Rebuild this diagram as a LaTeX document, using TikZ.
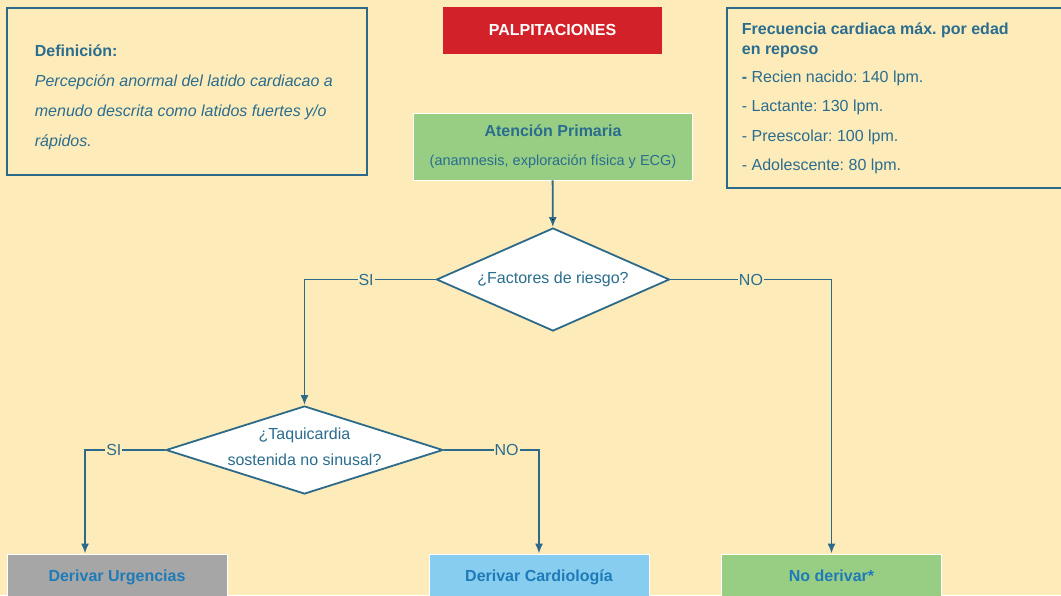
\documentclass[tikz,border=0pt]{standalone}
\usepackage{fontspec}
\setmainfont{Liberation Sans}
\frenchspacing
\usetikzlibrary{shapes.geometric,positioning,arrows.meta}
\definecolor{bgyellow}{HTML}{FEEBBA}
\definecolor{txtblue}{HTML}{2A6D8E}
\definecolor{linblue}{HTML}{2D6A89}
\definecolor{boldblue}{HTML}{1F7BB8}
\definecolor{boxred}{HTML}{D3212A}
\definecolor{boxgreen}{HTML}{98CE84}
\definecolor{boxgray}{HTML}{A6A6A6}
\definecolor{boxcyan}{HTML}{87CDEF}
\tikzset{infobox/.style = {draw=linblue, line width=1.8pt}}
\tikzset{infoline/.style = {anchor=west, inner sep=0pt, text=txtblue, text height=14pt, text depth=1pt, font=\fontsize{16}{19}\selectfont}}
\tikzset{decision/.style = {diamond, draw=linblue, fill=white, line width=1.8pt, inner sep=0pt, text=txtblue, align=center, font=\fontsize{16}{24}\selectfont}}
\tikzset{outcome/.style = {draw=white, line width=0.8pt, minimum width=220pt, minimum height=42pt, text height=14pt, text depth=1pt, text=boldblue, font=\fontsize{16}{19}\selectfont\bfseries}}
\tikzset{answer/.style = {fill=bgyellow, inner sep=1pt, text=txtblue, font=\fontsize{16}{19}\selectfont}}

\begin{document}
\begin{tikzpicture}[x=1pt, y=-1pt, >={Latex[length=10pt, width=8pt]}, line width=1.8pt]
  \useasboundingbox (0,0) rectangle (1061,595);
  \fill[bgyellow] (0,0) rectangle (1061,595);
  \clip (0,0) rectangle (1061,595);

  % definition box
  \draw[infobox] (7,8) rectangle (367,175);
  \node [infoline, font=\fontsize{16}{19}\selectfont\bfseries] (defhead) at (34,50) {Definición:};
  \node [infoline, font=\fontsize{16}{19}\selectfont\itshape] (def1) at (34,80) {Percepción anormal del latido cardiacao a};
  \node [infoline, font=\fontsize{16}{19}\selectfont\itshape] (def2) at (34,110) {menudo descrita como latidos fuertes y/o};
  \node [infoline, font=\fontsize{16}{19}\selectfont\itshape] (def3) at (34,140) {rápidos.};

  % heart rate box
  \draw[infobox] (727,8) rectangle (1075,188);
  \node [infoline, font=\fontsize{16}{19}\selectfont\bfseries] (fchead1) at (741,28) {Frecuencia cardiaca máx. por edad};
  \node [infoline, font=\fontsize{16}{19}\selectfont\bfseries] (fchead2) at (741,48) {en reposo};
  \node [infoline] (fc1) at (741,76) {{\bfseries -} Recien nacido: 140 lpm.};
  \node [infoline] (fc2) at (741,105) {- Lactante: 130 lpm.};
  \node [infoline] (fc3) at (741,135) {- Preescolar: 100 lpm.};
  \node [infoline] (fc4) at (741,164) {- Adolescente: 80 lpm.};

  % title
  \node [fill=boxred, minimum width=219pt, minimum height=47pt, text height=11pt, text depth=1pt, text=white, font=\fontsize{16}{19}\selectfont\bfseries] (title) at (552.5,30.5) {PALPITACIONES};

  % primary care
  \node [fill=boxgreen, draw=white, line width=0.8pt, minimum width=279pt, minimum height=67pt] (ap) at (552.5,146.5) {};
  \node [text=txtblue, inner sep=0pt, text height=14pt, text depth=1pt, font=\fontsize{16}{19}\selectfont\bfseries] (aphead) at (553,130) {Atención Primaria};
  \node [text=txtblue, inner sep=0pt, text height=14pt, text depth=1pt, font=\fontsize{14.5}{17}\selectfont] (apsub) at (553,159) {(anamnesis, exploración física y ECG)};

  % decisions
  \node [decision, aspect=2.26, minimum width=233pt, minimum height=103pt] (riesgo) at (553,279.5) {¿Factores de riesgo?};
  \node [decision, aspect=3.15, minimum width=277pt, minimum height=88pt] (taqui) at (304.5,450) {};
  \node [text=txtblue, align=center, font=\fontsize{16}{26}\selectfont] (taquitext) at (304.5,446.5) {¿Taquicardia\\sostenida no sinusal?};

  % outcomes
  \node [outcome, fill=boxgray] (urg) at (117,575) {Derivar Urgencias};
  \node [outcome, fill=boxcyan] (cardio) at (539,575) {Derivar Cardiología};
  \node [outcome, fill=boxgreen] (noder) at (831.5,575) {No derivar*};

  % connectors
  \path[->, draw=linblue] (ap) edge (riesgo);
  \draw[->, linblue] (riesgo.west) -| node [answer, pos=0.265] {SI} (taqui.north);
  \draw[->, linblue] (riesgo.east) -| node [answer, pos=0.25] {NO} (noder.north);
  \draw[->, linblue] (taqui.west) -| node [answer, pos=0.32] {SI} (urg.north -| 85,0);
  \draw[->, linblue] (taqui.east) -| node [answer, pos=0.33] {NO} (cardio.north);
\end{tikzpicture}
\end{document}
